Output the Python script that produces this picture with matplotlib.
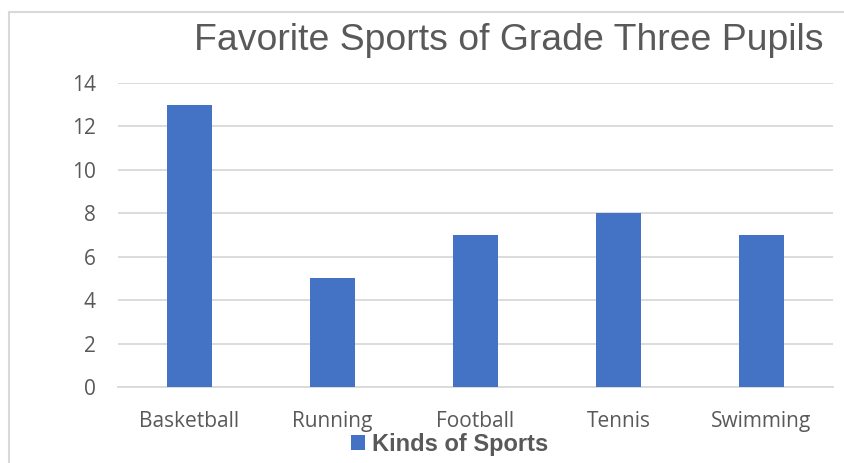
import matplotlib
matplotlib.use("Agg")
import matplotlib.pyplot as plt
from matplotlib.patches import Rectangle, Patch

categories = ["Basketball", "Running", "Football", "Tennis", "Swimming"]
values = [13, 5, 7, 8, 7]
yticks = [0, 2, 4, 6, 8, 10, 12, 14]
title = "Favorite Sports of Grade Three Pupils"
series_name = "Kinds of Sports"

bar_color = "#4472C4"
text_color = "#595959"
grid_color = "#D9D9D9"

fig = plt.figure(figsize=(8.44, 4.63), dpi=100)
fig.patch.set_facecolor("white")

# chart border
fig.patches.append(Rectangle((9/844, -0.01), 1.0, 1 - 12/463 + 0.01, transform=fig.transFigure,
                             fill=False, edgecolor=grid_color, linewidth=1.5))

ax = fig.add_axes([118/844, 1 - 387/463, (833 - 118)/844, (387 - 83)/463])
x = list(range(len(categories)))
ax.bar(x, values, width=0.315, color=bar_color, zorder=3)
ax.set_xlim(-0.5, len(categories) - 0.5)
ax.set_ylim(0, 14)
ax.set_yticks(yticks)
ax.set_xticks(x)
ax.set_xticklabels(categories)
ax.yaxis.grid(True, color=grid_color, linewidth=1.3, zorder=0)
ax.set_axisbelow(True)
for s in ["top", "right", "left"]:
    ax.spines[s].set_visible(False)
ax.spines["bottom"].set_color(grid_color)
ax.spines["bottom"].set_linewidth(1.3)
ax.tick_params(axis="both", length=0, colors=text_color, labelsize=15)
ax.tick_params(axis="x", pad=17)
ax.tick_params(axis="y", pad=16)
for lab in ax.get_xticklabels() + ax.get_yticklabels():
    lab.set_fontfamily("Open Sans")

fig.text(509/844, 1 - 40/463, title, ha="center", va="center", fontsize=26.9,
         color=text_color, family="Liberation Sans")

handle = Patch(facecolor=bar_color, edgecolor="none")
leg = fig.legend([handle], [series_name], loc="center", bbox_to_anchor=(450/844, 1 - 444/463),
                 frameon=False, handlelength=0.6, handleheight=0.6, handletextpad=0.3,
                 prop={"family": "Liberation Sans", "weight": "bold", "size": 17})
for t in leg.get_texts():
    t.set_color(text_color)

fig.savefig("out.png", dpi=100)
